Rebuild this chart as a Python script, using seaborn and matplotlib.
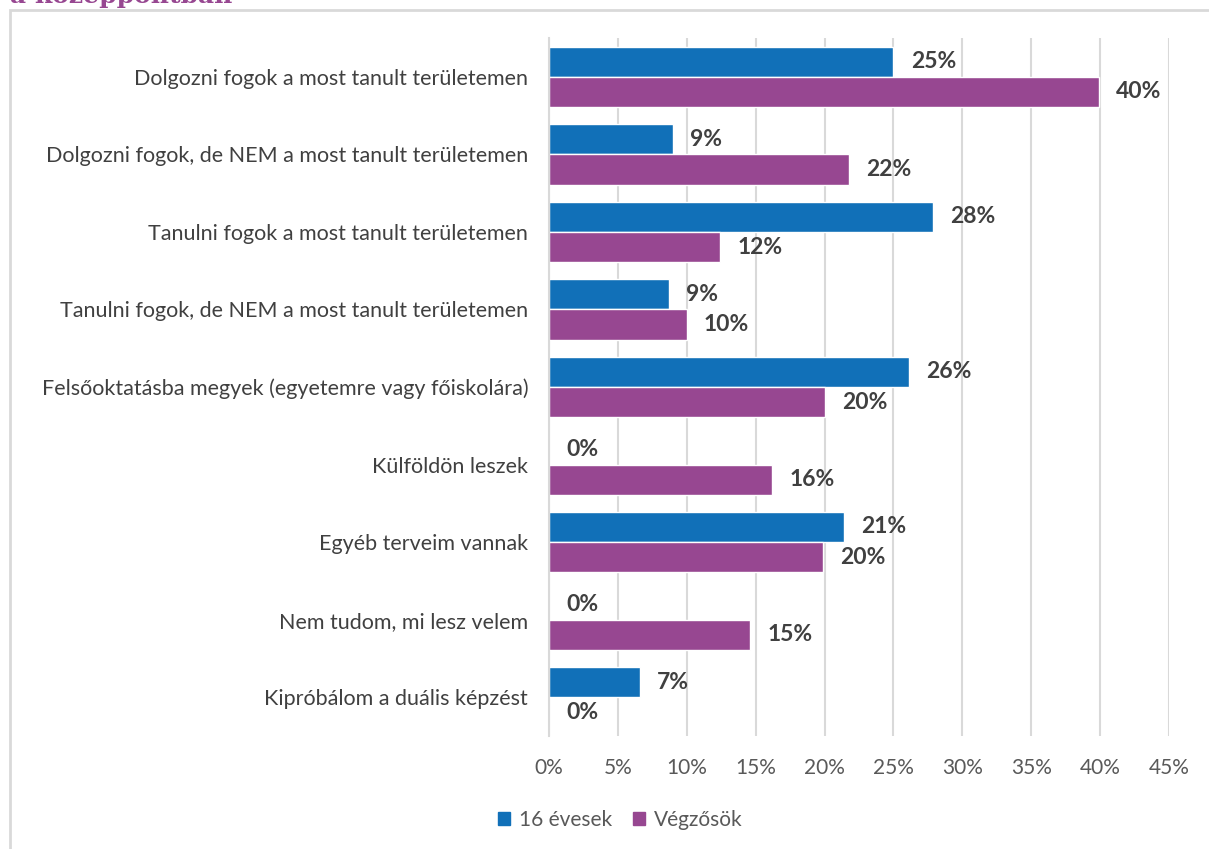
import matplotlib.pyplot as plt
import matplotlib.patches as mpatches
import seaborn as sns
import pandas as pd

# Adatok
kategoriak = [
    'Dolgozni fogok a most tanult területemen',
    'Dolgozni fogok, de NEM a most tanult területemen',
    'Tanulni fogok a most tanult területemen',
    'Tanulni fogok, de NEM a most tanult területemen',
    'Felsőoktatásba megyek (egyetemre vagy főiskolára)',
    'Külföldön leszek',
    'Egyéb terveim vannak',
    'Nem tudom, mi lesz velem',
    'Kipróbálom a duális képzést',
]
csoportok = ['16 évesek', 'Végzősök']
evesek16 = [25.0, 9.0, 27.9, 8.7, 26.1, 0.0, 21.4, 0.0, 6.6]
vegzosok = [39.9, 21.8, 12.4, 10.0, 20.0, 16.2, 19.9, 14.6, 0.0]
x_ticks = [0, 5, 10, 15, 20, 25, 30, 35, 40, 45]

df = pd.DataFrame({
    'kategoria': kategoriak * 2,
    'csoport': [csoportok[0]] * len(kategoriak) + [csoportok[1]] * len(kategoriak),
    'ertek': evesek16 + vegzosok,
})

sns.set_style('white')
plt.rcParams['font.family'] = ['Lato', 'DejaVu Sans']

szinek = {'16 évesek': '#1170b8', 'Végzősök': '#974791'}

fig = plt.figure(figsize=(12.09, 8.49), dpi=100)
ax = fig.add_axes([549 / 1209, 1 - 736 / 849, (1169 - 549) / 1209, (736 - 38) / 849])

sns.barplot(data=df, y='kategoria', x='ertek', hue='csoport', order=kategoriak,
            hue_order=csoportok, palette=szinek, width=0.78, saturation=1,
            orient='h', ax=ax, legend=False)

# Értékcímkék
for cont in ax.containers:
    for bar in cont:
        w = bar.get_width()
        ax.text(w + 1.25, bar.get_y() + bar.get_height() / 2, f'{round(w):.0f}%',
                va='center', ha='left', fontsize=16.5, fontweight='bold', color='#404040')

ax.set_xlim(0, 45)
ax.set_xticks(x_ticks)
ax.set_xticklabels([f'{t}%' for t in x_ticks], fontsize=15, color='#595959')
ax.tick_params(axis='x', length=0, pad=16)
ax.tick_params(axis='y', length=0, pad=15, labelsize=15.5, labelcolor='#404040')
ax.set_xlabel('')
ax.set_ylabel('')
ax.xaxis.grid(True, color='#d9d9d9', linewidth=1.5)
ax.set_axisbelow(True)
for s in ['top', 'right', 'bottom']:
    ax.spines[s].set_visible(False)
ax.spines['left'].set_color('#d9d9d9')
ax.spines['left'].set_linewidth(1.5)

# Jelmagyarázat
kezelok = [mpatches.Patch(color=szinek[c], label=c) for c in csoportok]
fig.legend(handles=kezelok, loc='center', bbox_to_anchor=(620 / 1209, 1 - 820 / 849),
           ncol=2, frameon=False, fontsize=15, handlelength=0.6, handleheight=0.6,
           handletextpad=0.4, columnspacing=1.0, labelcolor='#595959')

# Keret és levágott cím
fig.patches.append(mpatches.Rectangle((10 / 1209, -0.05), 1.1, 1 - 10 / 849 + 0.05,
                                      transform=fig.transFigure, fill=False,
                                      edgecolor='#d9d9d9', linewidth=2))
fig.text(10 / 1209, 1 - 3 / 849, 'a középpontban', fontsize=18, fontweight='bold',
         color='#974791', family='DejaVu Serif', va='baseline', ha='left')

fig.savefig('out.png', dpi=100)
